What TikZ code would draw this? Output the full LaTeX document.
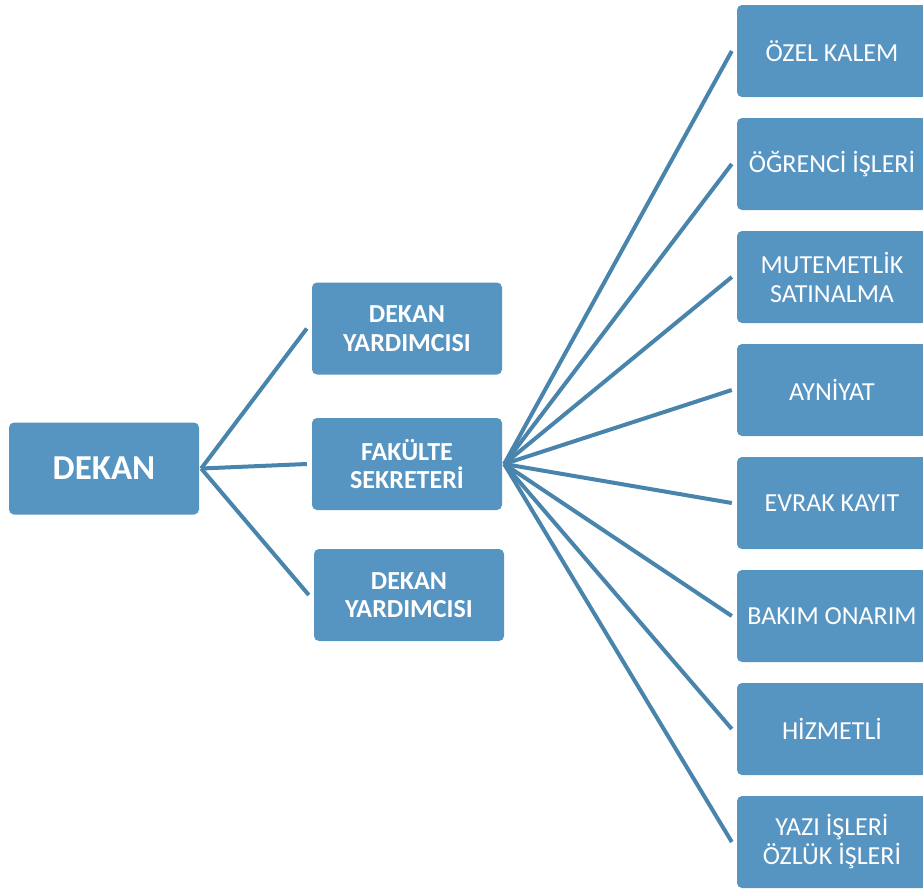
\documentclass[tikz,border=0pt]{standalone}
\usepackage{fontspec}
\setmainfont{Carlito}
\definecolor{boxfill}{RGB}{86,148,194}
\definecolor{linkcol}{RGB}{72,132,172}
\begin{document}
\begin{tikzpicture}[x=1pt,y=-1pt,
  orgbox/.style={rectangle, rounded corners=5pt, fill=boxfill, text=white,
    minimum width=190pt, minimum height=92pt, inner sep=0pt, align=center},
  midbox/.style={orgbox, font=\bfseries\fontsize{26}{28.5}\selectfont},
  rightbox/.style={orgbox, font=\fontsize{26}{29}\selectfont},
  topbox/.style={orgbox, font=\bfseries\fontsize{35}{40}\selectfont},
  link/.style={draw=linkcol, line width=4pt}]
\useasboundingbox (0,0) rectangle (923,889);
\clip (0,0) rectangle (923,889);
\node[topbox] (dekan) at (104,468.5) {DEKAN};
\node[midbox] (dy1) at (407,328.5) {DEKAN\\YARDIMCISI};
\node[midbox] (fs) at (407,464) {FAKÜLTE\\SEKRETERİ};
\node[midbox] (dy2) at (409,595) {DEKAN\\YARDIMCISI};
\node[rightbox] (r1) at (832,51) {ÖZEL KALEM};
\node[rightbox] (r2) at (832,164) {ÖĞRENCİ İŞLERİ};
\node[rightbox] (r3) at (832,277) {MUTEMETLİK\\SATINALMA};
\node[rightbox] (r4) at (832,390) {AYNİYAT};
\node[rightbox] (r5) at (832,503) {EVRAK KAYIT};
\node[rightbox] (r6) at (832,616) {BAKIM ONARIM};
\node[rightbox] (r7) at (832,729) {HİZMETLİ};
\node[rightbox] (r8) at (832,842) {YAZI İŞLERİ\\ÖZLÜK İŞLERİ};
\foreach \t in {dy1,fs,dy2}
  \draw[link] ([xshift=2pt]dekan.east) -- ([xshift=-5pt]\t.west);
\foreach \t in {r1,r2,r3,r4,r5,r6,r7,r8}
  \draw[link] ([xshift=2pt]fs.east) -- ([xshift=-5pt]\t.west);
\end{tikzpicture}
\end{document}
